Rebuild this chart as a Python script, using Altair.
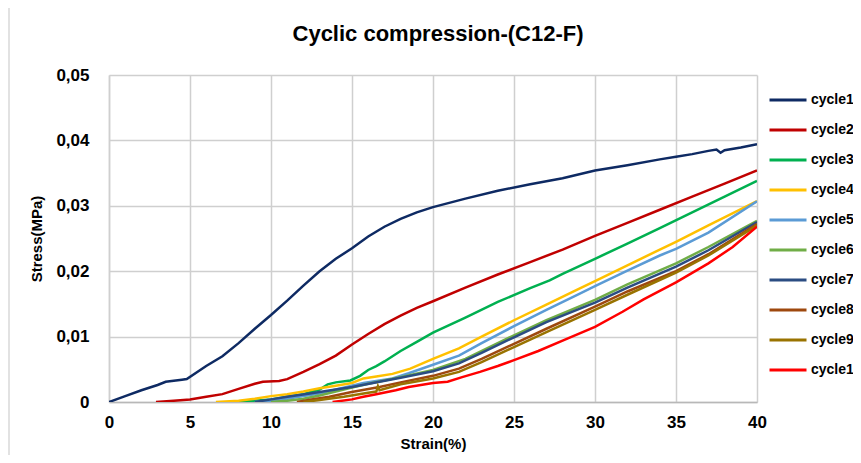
import altair as alt
import pandas as pd

cycles = [f"cycle{i}" for i in range(1, 11)]
colors = ["#0E2A63", "#C00000", "#00B050", "#FFC000", "#5B9BD5",
          "#70AD47", "#2B4C82", "#9E480E", "#997300", "#FF0000"]

c1_x = [0, 1, 2, 3, 3.5, 4.5, 4.8, 6, 7, 8, 9, 10, 11, 12, 13, 14, 15, 16, 17, 18, 19, 20,
        22, 24, 26, 28, 30, 32, 34, 35, 36, 37, 37.5, 37.75, 38, 39, 40]
c1_y = [0, 0.0009, 0.0018, 0.0026, 0.0031, 0.0034, 0.0035, 0.0055, 0.0070, 0.0090, 0.0112,
        0.0133, 0.0155, 0.0178, 0.0200, 0.0219, 0.0235, 0.0253, 0.0268, 0.0280, 0.0290, 0.0298,
        0.0311, 0.0323, 0.0333, 0.0342, 0.0354, 0.0362, 0.0371, 0.0375, 0.0379, 0.0384, 0.0386,
        0.0381, 0.0385, 0.0389, 0.0394]

c2_x = [2.9, 4, 5, 6, 7, 8, 9, 9.5, 10.5, 11, 12, 13, 14, 15, 16, 17, 18, 19, 20,
        22, 24, 26, 28, 30, 32, 34, 36, 38, 40]
c2_y = [0, 0.0002, 0.0004, 0.0008, 0.0012, 0.0020, 0.0028, 0.0031, 0.0032, 0.0035, 0.0046,
        0.0058, 0.0071, 0.0088, 0.0104, 0.0119, 0.0132, 0.0144, 0.0154, 0.0175, 0.0195,
        0.0214, 0.0233, 0.0254, 0.0274, 0.0294, 0.0314, 0.0334, 0.0354]

c3_x = [8, 10, 12, 13, 13.5, 14, 14.9, 15.5, 16, 16.5, 17, 18, 19, 20, 22, 24, 26, 27.2,
        28, 30, 32, 34, 36, 38, 40]
c3_y = [0, 0.0004, 0.0012, 0.0019, 0.0027, 0.0030, 0.0033, 0.0040, 0.0049, 0.0055, 0.0062,
        0.0078, 0.0092, 0.0106, 0.0129, 0.0153, 0.0174, 0.0186, 0.0196, 0.0219, 0.0242,
        0.0266, 0.0290, 0.0314, 0.0338]

c4_x = [6.6, 8, 9, 10, 11, 12, 13, 14, 15, 15.7, 16.5, 17.5, 18.6, 20, 21.6, 23, 25, 27,
        29, 30, 32, 34, 35, 37, 40]
c4_y = [0, 0.0002, 0.0005, 0.0009, 0.0012, 0.0016, 0.0021, 0.0025, 0.0029, 0.0036, 0.0039,
        0.0043, 0.0051, 0.0066, 0.0082, 0.0100, 0.0125, 0.0149, 0.0173, 0.0185, 0.0209,
        0.0233, 0.0245, 0.0270, 0.0307]

c5_x = [9, 10, 11, 12, 13, 14, 15, 15.7, 17.5, 18.5, 20, 21.6, 23, 25, 27, 29, 30, 32,
        34, 35, 37, 40]
c5_y = [0, 0.0002, 0.0005, 0.0009, 0.0013, 0.0019, 0.0025, 0.0029, 0.0036, 0.0044, 0.0057,
        0.0071, 0.0090, 0.0116, 0.0141, 0.0165, 0.0177, 0.0201, 0.0224, 0.0234, 0.0259, 0.0307]

c6_x = [10, 11, 12, 13, 14, 15, 16, 17, 18, 20, 22, 25, 27, 30, 32, 35, 37, 40]
c6_y = [0, 0.0002, 0.0005, 0.0010, 0.0016, 0.0022, 0.0028, 0.0033, 0.0038, 0.0049, 0.0066,
        0.0102, 0.0125, 0.0156, 0.0180, 0.0212, 0.0237, 0.0277]

c7_x = [9, 10, 11, 12.4, 14, 15, 16.7, 18, 20, 21.6, 23, 25, 27, 30, 32, 35, 37, 40]
c7_y = [0, 0.0004, 0.0008, 0.0013, 0.0019, 0.0023, 0.0031, 0.0037, 0.0047, 0.0059, 0.0075,
        0.0099, 0.0122, 0.0152, 0.0175, 0.0207, 0.0232, 0.0275]

c8_x = [11.6, 12.5, 13.6, 14.9, 16.7, 18, 20, 21.6, 23, 25, 27, 30, 32, 35, 37, 40]
c8_y = [0, 0.0004, 0.0008, 0.0015, 0.0023, 0.0030, 0.0040, 0.0051, 0.0066, 0.0089, 0.0112,
        0.0146, 0.0169, 0.0200, 0.0226, 0.0272]

c9_x = [12, 13, 14.5, 16, 16.5, 16.6, 16.7, 18, 20, 21.6, 23, 25, 27, 30, 32, 35, 37, 40]
c9_y = [0, 0.0003, 0.0008, 0.0014, 0.0016, 0.0024, 0.0018, 0.0027, 0.0036, 0.0046, 0.0061,
        0.0084, 0.0107, 0.0141, 0.0164, 0.0198, 0.0224, 0.0270]

c10_x = [13.8, 15, 15.7, 16.5, 17.7, 18.5, 20, 20.9, 21.8, 22.9, 24, 25, 26.5, 28, 30, 31.7,
         33, 35, 37, 38.5, 40]
c10_y = [0, 0.0004, 0.0008, 0.0012, 0.0018, 0.0023, 0.0029, 0.0031, 0.0038, 0.0046, 0.0055,
         0.0064, 0.0078, 0.0094, 0.0115, 0.0138, 0.0157, 0.0183, 0.0212, 0.0237, 0.0268]

series = [(c1_x, c1_y), (c2_x, c2_y), (c3_x, c3_y), (c4_x, c4_y), (c5_x, c5_y),
          (c6_x, c6_y), (c7_x, c7_y), (c8_x, c8_y), (c9_x, c9_y), (c10_x, c10_y)]

x_ticks = [0, 5, 10, 15, 20, 25, 30, 35, 40]
y_ticks = [0, 0.01, 0.02, 0.03, 0.04, 0.05]

rows = []
for name, (xs, ys) in zip(cycles, series):
    for i, (x, y) in enumerate(zip(xs, ys)):
        rows.append({"cycle": name, "strain": x, "stress": y, "order": i})
df = pd.DataFrame(rows)

FONT = "Liberation Sans"
GRID = "#CFCFCF"

lines = alt.Chart(df).mark_line(strokeWidth=2.5, clip=True).encode(
    x=alt.X("strain:Q", scale=alt.Scale(domain=[0, 40], nice=False),
            axis=alt.Axis(values=x_ticks, title="Strain(%)", grid=True, ticks=False,
                          labelFlush=False, labelPadding=12, titlePadding=6,
                          labelFontSize=17, labelFontWeight="bold", labelFont=FONT,
                          titleFontSize=15, titleFontWeight="bold", titleFont=FONT,
                          labelColor="#000000", titleColor="#000000",
                          gridColor=GRID, gridWidth=1.5, gridOpacity=1,
                          domainColor="#B8B8B8", domainWidth=1.5)),
    y=alt.Y("stress:Q", scale=alt.Scale(domain=[0, 0.05], nice=False),
            axis=alt.Axis(values=y_ticks, title="Stress(MPa)", grid=True, ticks=False,
                          labelFlush=False, labelPadding=20, titlePadding=11,
                          labelExpr="datum.value == 0 ? '0' : replace(format(datum.value, '.2f'), '.', ',')",
                          labelFontSize=17, labelFontWeight="bold", labelFont=FONT,
                          titleFontSize=15, titleFontWeight="bold", titleFont=FONT,
                          labelColor="#000000", titleColor="#000000",
                          gridColor=GRID, gridWidth=1.5, gridOpacity=1,
                          domainColor=GRID, domainWidth=1.5)),
    color=alt.Color("cycle:N", scale=alt.Scale(domain=cycles, range=colors),
                    legend=alt.Legend(title=None, orient="none", legendX=659, legendY=10,
                                      symbolType="stroke", symbolSize=1369,
                                      symbolStrokeWidth=3, clipHeight=30, rowPadding=0,
                                      labelOffset=3, labelFontSize=14,
                                      labelFontWeight="bold", labelFont=FONT,
                                      labelColor="#000000", labelLimit=200)),
    order="order:Q",
)

# light-grey chart-area frame (Excel style), drawn around the whole chart
frame = alt.Chart(pd.DataFrame({"k": [0]})).mark_rect(
    fillOpacity=0, stroke="#D9D9D9", strokeWidth=1.5, clip=False
).encode(
    x=alt.value(-100), x2=alt.value(760), y=alt.value(-69), y2=alt.value(420)
)

chart = alt.layer(frame, lines).properties(
    width=648, height=327,
    background="white",
    title=alt.TitleParams("Cyclic compression-(C12-F)", fontSize=22, fontWeight="bold",
                          font=FONT, color="#000000", anchor="middle", frame="group",
                          offset=-41, dx=5),
    autosize=alt.AutoSizeParams(type="none"),
    padding={"left": 101, "top": 67, "right": 96, "bottom": 53},
).configure_view(stroke=None)

chart.save("out.html", embed_options={"renderer": "svg", "actions": False})
